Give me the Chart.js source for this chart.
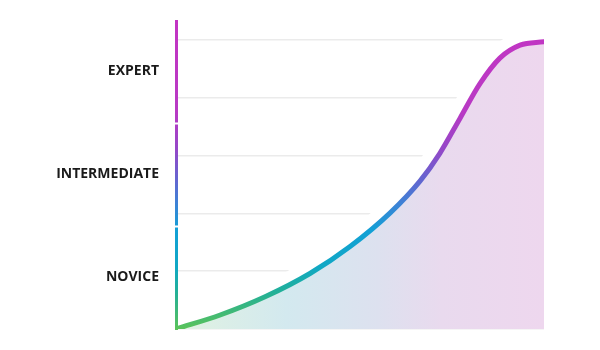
<!DOCTYPE html>
<html>
<head>
<meta charset="utf-8">
<script src="https://cdn.jsdelivr.net/npm/chart.js@4.4.0/dist/chart.umd.min.js"></script>
<style>
  html, body { margin: 0; padding: 0; background: #fff; }
  #wrap { width: 600px; height: 350px; position: relative; }
</style>
</head>
<body>
<div id="wrap"><canvas id="curve"></canvas></div>
<script>
// skill levels, bottom to top
const levels = ['NOVICE', 'INTERMEDIATE', 'EXPERT'];
// progress (x, 0-100) and skill (y, in levels)
const progress = [0, 12, 24.2, 36.4, 47.3, 58.2, 66.3, 71.7, 77.2, 82.6, 88, 93.5, 100];
const skill = [0, 0.136, 0.313, 0.539, 0.801, 1.128, 1.436, 1.706, 2.047, 2.382, 2.63, 2.756, 2.789];
// light guide lines, in level units
const guideStep = 0.5613;
const guideCount = 5;

const points = progress.map((x, i) => ({ x: x, y: skill[i] }));

function vertGradient(chart) {
    const a = chart.chartArea;
    const g = chart.ctx.createLinearGradient(0, a.bottom, 0, a.top);
    g.addColorStop(0, '#5ac35a');
    g.addColorStop(0.06, '#3db87a');
    g.addColorStop(0.12, '#22b098');
    g.addColorStop(0.2, '#10a8c4');
    g.addColorStop(0.32, '#12a0d6');
    g.addColorStop(0.4, '#3a84d6');
    g.addColorStop(0.48, '#6266d0');
    g.addColorStop(0.58, '#9448c8');
    g.addColorStop(0.7, '#b83ac4');
    g.addColorStop(1, '#c334c3');
    return g;
}

function fillGradient(chart) {
    const a = chart.chartArea;
    const g = chart.ctx.createLinearGradient(a.left, 0, a.right, 0);
    g.addColorStop(0, '#e1f2e1');
    g.addColorStop(0.3, '#d3e9ef');
    g.addColorStop(0.55, '#dde1ef');
    g.addColorStop(0.72, '#e9daee');
    g.addColorStop(1, '#eed7ee');
    return g;
}

// the segmented coloured axis on the left
const levelAxis = {
    id: 'levelAxis',
    afterDatasetsDraw(chart) {
        const ctx = chart.ctx;
        const y = chart.scales.y;
        const x = chart.chartArea.left + 0.5;
        const gap = 1.5;
        ctx.save();
        ctx.strokeStyle = vertGradient(chart);
        ctx.lineWidth = 3;
        levels.forEach((l, i) => {
            let y1 = y.getPixelForValue(i + 1);
            let y2 = y.getPixelForValue(i) + 1;
            if (i < levels.length - 1) y1 += gap;
            if (i > 0) y2 -= gap;
            ctx.beginPath();
            ctx.moveTo(x, y1);
            ctx.lineTo(x, y2);
            ctx.stroke();
        });
        ctx.restore();
    }
};

new Chart(document.getElementById('curve'), {
    type: 'line',
    data: {
        datasets: [{
            data: points,
            borderColor: c => c.chart.chartArea ? vertGradient(c.chart) : '#3a84d6',
            backgroundColor: c => c.chart.chartArea ? fillGradient(c.chart) : '#e0e0f0',
            borderWidth: 5,
            borderCapStyle: 'round',
            fill: 'origin',
            cubicInterpolationMode: 'monotone',
            pointRadius: 0
        }, {
            // white halo that keeps the guide lines off the curve
            data: points,
            borderColor: '#ffffff',
            borderWidth: 26,
            fill: false,
            cubicInterpolationMode: 'monotone',
            pointRadius: 0
        }]
    },
    options: {
        responsive: true,
        maintainAspectRatio: false,
        animation: false,
        layout: { padding: { left: 57, top: 20, right: 56, bottom: 21 } },
        plugins: { legend: { display: false }, tooltip: { enabled: false } },
        scales: {
            x: { type: 'linear', min: 0, max: 100, display: false },
            y: {
                min: 0,
                max: levels.length,
                afterBuildTicks: s => {
                    const t = [];
                    for (let k = 0; k <= guideCount; k++) t.push({ value: k * guideStep, guide: true });
                    levels.forEach((l, i) => t.push({ value: i + 0.5, label: l }));
                    s.ticks = t;
                },
                afterFit: s => {
                    s.width = 119;
                    s.paddingTop = 0;
                    s.paddingBottom = 0;
                },
                border: { display: false },
                grid: {
                    drawTicks: false,
                    lineWidth: 1.5,
                    color: c => (c.tick && c.tick.guide) ? '#ebebeb' : 'rgba(0,0,0,0)'
                },
                ticks: {
                    autoSkip: false,
                    padding: 17,
                    color: '#1a1a1a',
                    font: { family: '"Open Sans"', size: 14, weight: 'bold' },
                    callback: (v, i, t) => t[i].label || ''
                }
            }
        }
    },
    plugins: [levelAxis]
});
</script>
</body>
</html>
